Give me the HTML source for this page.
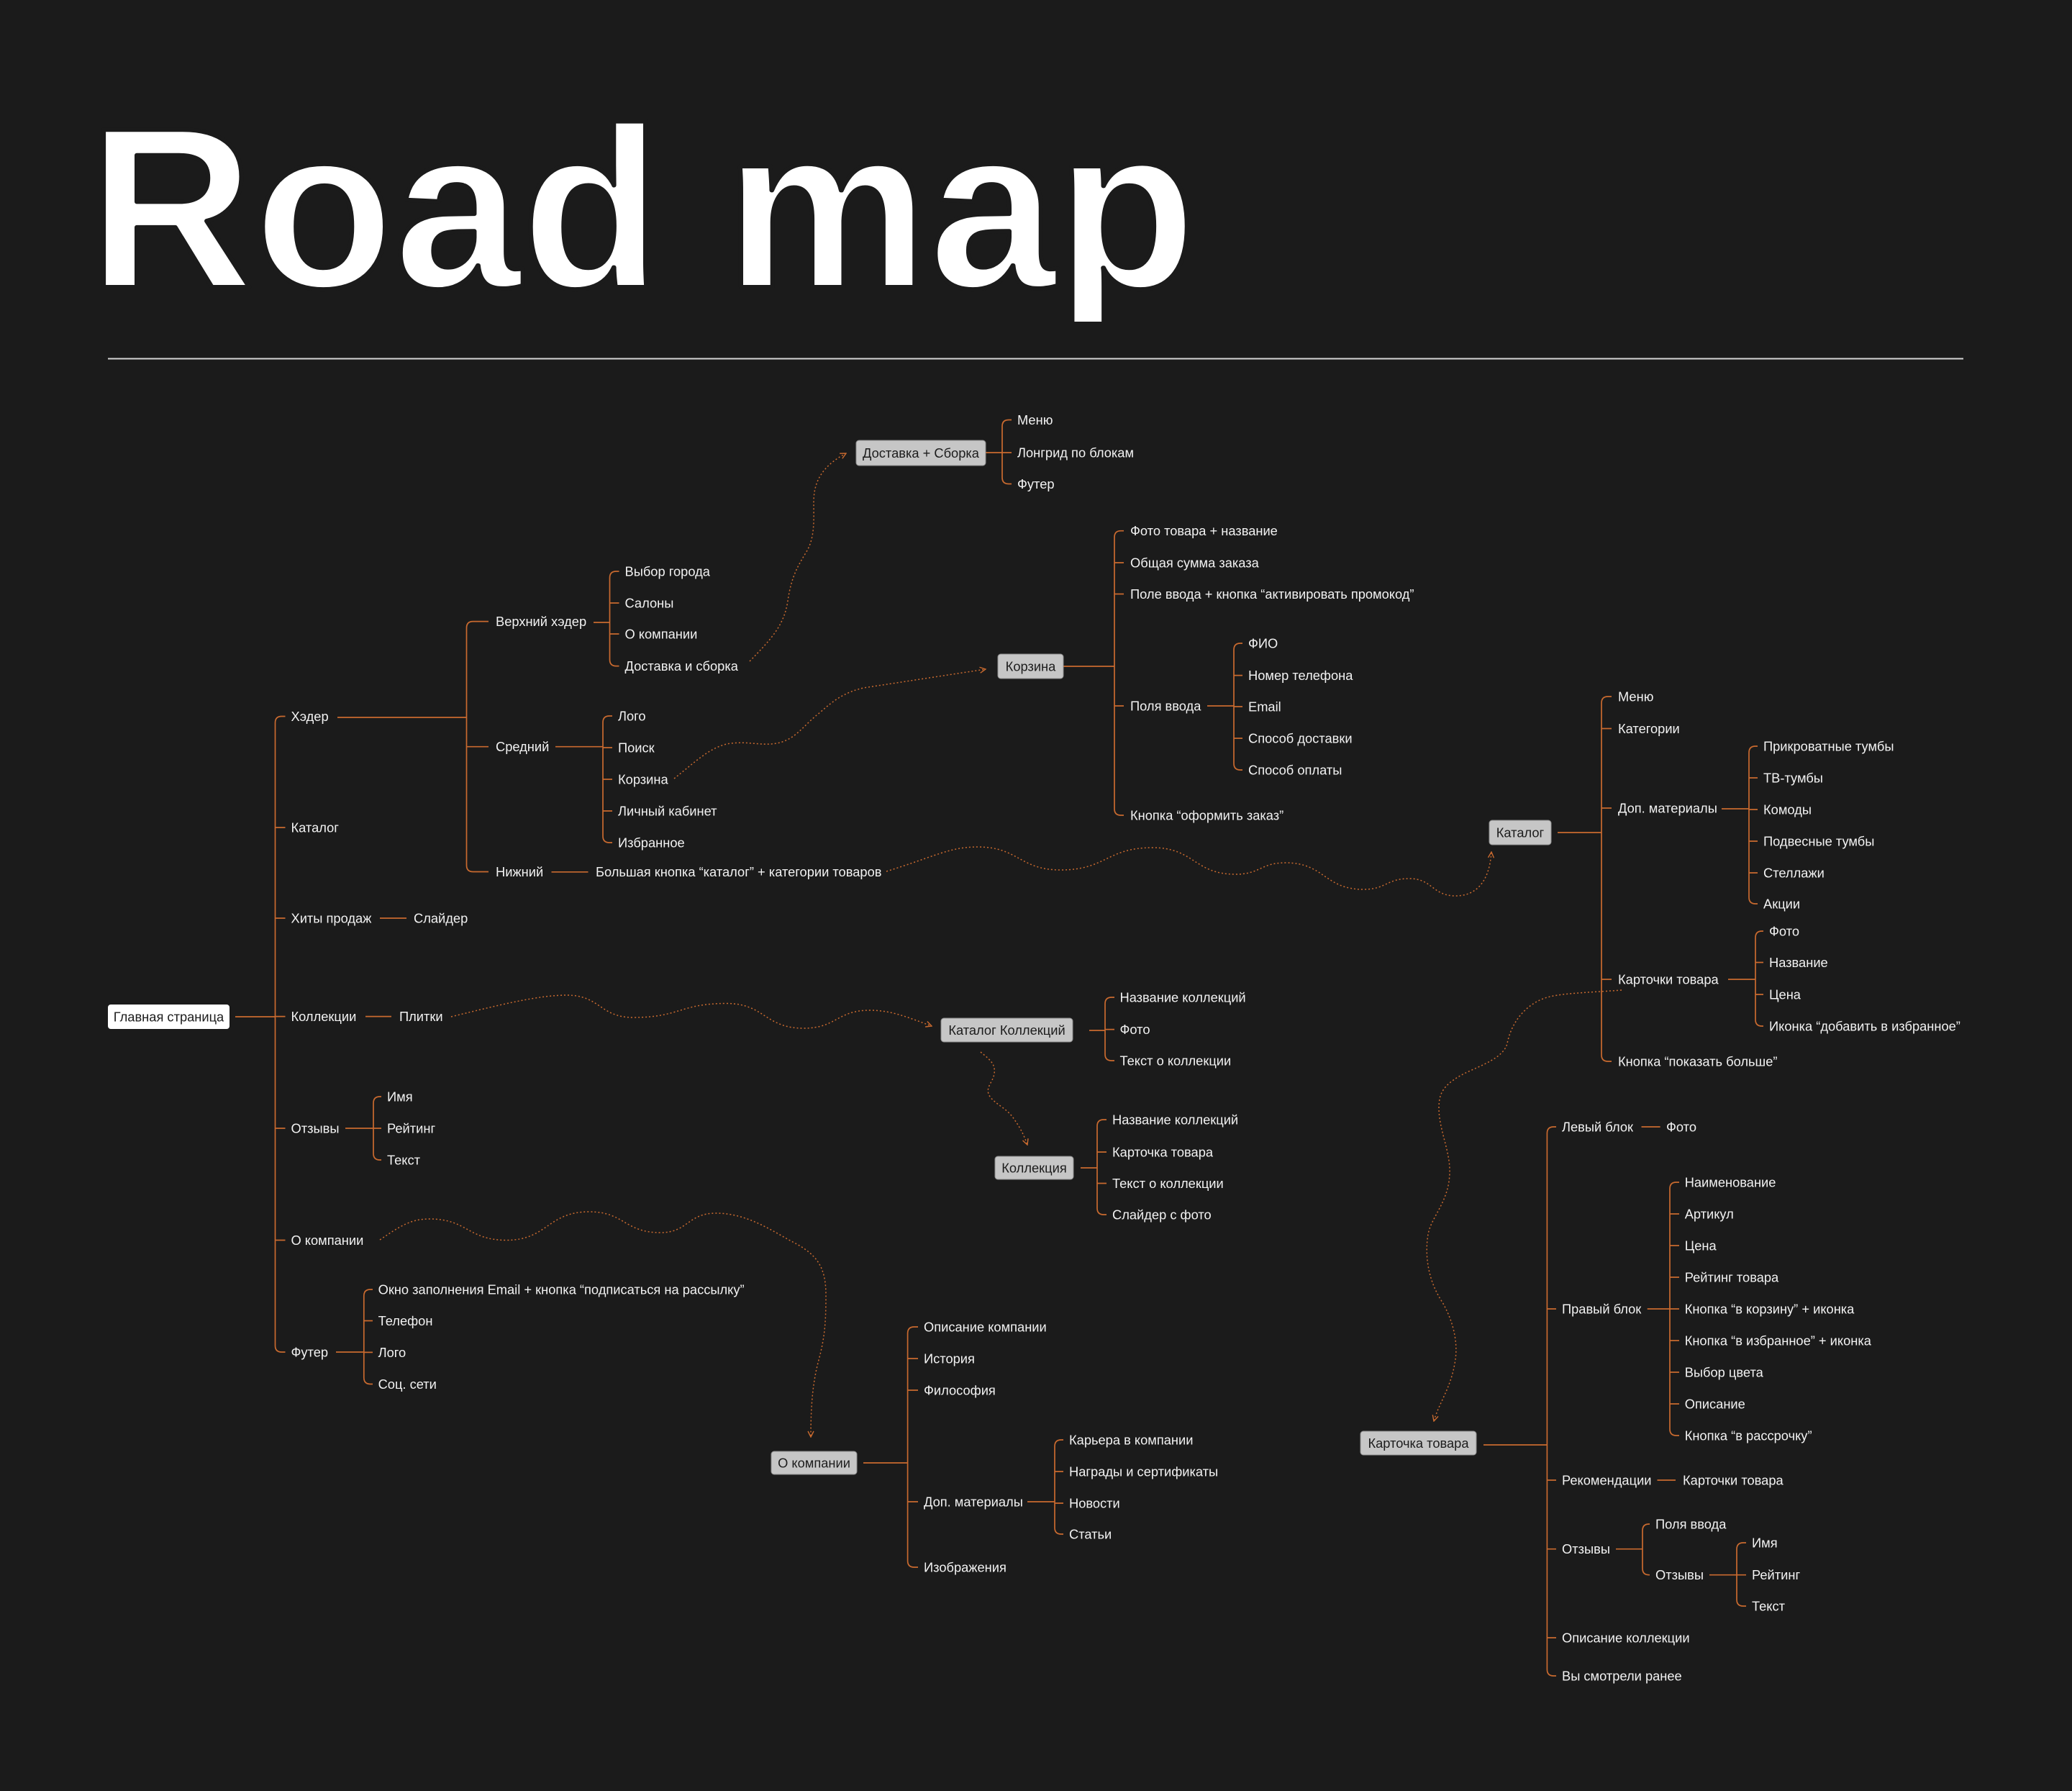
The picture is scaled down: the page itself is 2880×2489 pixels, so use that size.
<!DOCTYPE html>
<html>
<head>
<meta charset="utf-8">
<style>
html,body{margin:0;padding:0;background:#1b1b1b;}
svg{display:block;}
.t{font-family:"Liberation Sans","DejaVu Sans",sans-serif;font-size:18.3px;fill:#f2f2f2;}
.b{font-family:"Liberation Sans","DejaVu Sans",sans-serif;font-size:18.3px;fill:#1c1c1c;text-anchor:middle;}
.l{fill:none;stroke:#c96a2f;stroke-width:1.7;}
.d{fill:none;stroke:#c96a2f;stroke-width:1.5;stroke-dasharray:2 3;}
.bx{fill:#c6c6c6;stroke:#8e8e8e;stroke-width:1;}
</style>
</head>
<body>
<svg width="2880" height="2489" viewBox="0 0 2880 2489" xmlns="http://www.w3.org/2000/svg">
<defs>
<marker id="a" viewBox="0 0 10 10" refX="9" refY="5" markerWidth="10" markerHeight="10" markerUnits="userSpaceOnUse" orient="auto">
<path d="M1,1 L9,5 L1,9" fill="none" stroke="#c96a2f" stroke-width="1.4"/>
</marker>
<clipPath id="tc"><rect x="0" y="0" width="2880" height="447"/></clipPath>
</defs>
<rect x="0" y="0" width="2880" height="2489" fill="#1b1b1b"/>

<!-- Title -->
<g clip-path="url(#tc)">
<text x="122.8" y="399" font-family="'Liberation Sans',sans-serif" font-size="318" font-weight="700" fill="#ffffff" stroke="#1b1b1b" stroke-width="6" stroke-linejoin="round" textLength="1540" lengthAdjust="spacingAndGlyphs">Road map</text>
</g>
<line x1="150" y1="498.5" x2="2729" y2="498.5" stroke="#d6d6d6" stroke-width="2"/>

<!-- Brackets -->
<path class="l" d="M396.5,995.5 H391.5 Q382.5,995.5 382.5,1004.5 V1870 Q382.5,1879 391.5,1879 H396.5 M382.5,1150H396.5 M382.5,1276H396.5 M382.5,1412.6H396.5 M382.5,1568H396.5 M382.5,1723.5H396.5"/>
<path class="l" d="M679,863.6 H657.5 Q648.5,863.6 648.5,872.6 V1202.5 Q648.5,1211.5 657.5,1211.5 H679 M648.5,1037.7H679"/>
<path class="l" d="M860.5,794 H856.5 Q847.5,794 847.5,803 V916.6 Q847.5,925.6 856.5,925.6 H860.5 M847.5,838H860.5 M847.5,881H860.5"/>
<path class="l" d="M851,995 H847 Q838,995 838,1004 V1162 Q838,1171 847,1171 H851 M838,1039H851 M838,1083H851 M838,1127H851"/>
<path class="l" d="M530,1524 H528 Q519,1524 519,1533 V1603 Q519,1612 528,1612 H530 M519,1568H530"/>
<path class="l" d="M518,1792 H514.8 Q505.8,1792 505.8,1801 V1914.5 Q505.8,1923.5 514.8,1923.5 H518 M505.8,1835.5H518 M505.8,1879.4H518"/>
<path class="l" d="M1406,583.5 H1402 Q1393,583.5 1393,592.5 V663.5 Q1393,672.5 1402,672.5 H1406 M1393,629H1406"/>
<path class="l" d="M1562,737.7 H1558 Q1549,737.7 1549,746.7 V1124 Q1549,1133 1558,1133 H1562 M1549,782H1562 M1549,825.5H1562 M1549,981H1562"/>
<path class="l" d="M1727,894 H1724 Q1715,894 1715,903 V1061 Q1715,1070 1724,1070 H1727 M1715,938.6H1727 M1715,982H1727 M1715,1026H1727"/>
<path class="l" d="M2240,968 H2235 Q2226,968 2226,977 V1466 Q2226,1475 2235,1475 H2240 M2226,1012.5H2240 M2226,1123H2240 M2226,1361H2240"/>
<path class="l" d="M2443,1037 H2440 Q2431,1037 2431,1046 V1247 Q2431,1256 2440,1256 H2443 M2431,1081H2443 M2431,1125H2443 M2431,1169H2443 M2431,1213H2443"/>
<path class="l" d="M2451,1294 H2449 Q2440,1294 2440,1303 V1417 Q2440,1426 2449,1426 H2451 M2440,1337.5H2451 M2440,1382H2451"/>
<path class="l" d="M1549,1386 H1545 Q1536,1386 1536,1395 V1465 Q1536,1474 1545,1474 H1549 M1536,1430.6H1549"/>
<path class="l" d="M1538,1556 H1534 Q1525,1556 1525,1565 V1679 Q1525,1688 1534,1688 H1538 M1525,1601H1538 M1525,1644.5H1538"/>
<path class="l" d="M1276,1844 H1270.6 Q1261.6,1844 1261.6,1853 V2169 Q1261.6,2178 1270.6,2178 H1276 M1261.6,1888H1276 M1261.6,1932H1276 M1261.6,2087H1276"/>
<path class="l" d="M1478,2001 H1475 Q1466,2001 1466,2010 V2123 Q1466,2132 1475,2132 H1478 M1466,2045H1478 M1466,2089H1478"/>
<path class="l" d="M2163,1566 H2159.4 Q2150.4,1566 2150.4,1575 V2320 Q2150.4,2329 2159.4,2329 H2163 M2150.4,1819H2163 M2150.4,2057H2163 M2150.4,2152.7H2163 M2150.4,2276H2163"/>
<path class="l" d="M2334,1643 H2330 Q2321,1643 2321,1652 V1986 Q2321,1995 2330,1995 H2334 M2321,1687H2334 M2321,1731H2334 M2321,1775H2334 M2321,1819H2334 M2321,1863H2334 M2321,1907H2334 M2321,1951H2334"/>
<path class="l" d="M2293,2118 H2292 Q2283,2118 2283,2127 V2179.7 Q2283,2188.7 2292,2188.7 H2293"/>
<path class="l" d="M2427,2144 H2423 Q2414,2144 2414,2153 V2223 Q2414,2232 2423,2232 H2427 M2414,2188.7H2427"/>

<!-- Horizontal connectors -->
<path class="l" d="M327,1413H382.5 M469,997H648.5 M825,865H847.5 M772,1037.7H838 M766.5,1211.8H817.5 M528,1276H565 M508,1412.6H544 M480,1568H519 M467,1879H505.8 M1370,629H1393 M1478,926H1549 M1678,981H1715 M2165,1157H2226 M2393,1124H2431 M2402,1361H2440 M1514,1432H1536 M1502,1623H1525 M1200,2033H1261.6 M1428,2087H1466 M2062,2008H2150.4 M2281.5,1566H2307.6 M2289.7,1819H2321 M2303.5,2057H2329 M2246,2152.7H2283 M2376,2188.7H2414"/>

<!-- Dotted connectors -->
<path class="d" marker-end="url(#a)" d="M1042,919 C1070,890 1090,870 1095,835 C1100,800 1110,785 1122,765 C1133,745 1131,720 1131,698 C1131,670 1142,648 1176,630"/>
<path class="d" marker-end="url(#a)" d="M937,1082 C965,1060 985,1040 1010,1034 C1040,1028 1065,1040 1090,1030 C1110,1022 1120,1005 1140,990 C1160,972 1175,962 1200,956 L1370,930"/>
<path class="d" marker-end="url(#a)" d="M1232,1211 C1300,1190 1320,1177 1359,1177 C1416,1177 1417,1209 1474,1209 C1538,1209 1538,1178 1602,1178 C1660,1178 1660,1215 1717,1215 C1752,1215 1752,1199 1787,1199 C1841,1199 1841,1236 1895,1236 C1927,1236 1927,1221 1959,1221 C1991,1221 1991,1245 2023,1245 C2050,1245 2070,1228 2073,1184"/>
<path class="d" marker-end="url(#a)" d="M627,1413 C700,1395 750,1383 788,1383 C834,1383 834,1414 880,1414 C945,1414 945,1394.5 1010,1394.5 C1063,1394.5 1063,1429 1117,1429 C1163,1429 1163,1404 1209,1404 C1240,1404 1265,1415 1295,1426"/>
<path class="d" marker-end="url(#a)" d="M1363,1462 C1375,1472 1384,1478 1382,1492 C1380,1505 1368,1512 1376,1524 C1385,1536 1400,1540 1410,1556 C1420,1570 1424,1580 1428,1591"/>
<path class="d" marker-end="url(#a)" d="M528,1723 C555,1705 570,1694 597,1694 C650,1694 650,1723.5 704,1723.5 C761,1723.5 761,1684 819,1684 C868,1684 868,1713 918,1713 C956,1713 956,1686 995,1686 C1040,1686 1075,1712 1102,1726 C1135,1743 1148,1760 1148,1800 C1148,1840 1146,1860 1138,1890 C1130,1920 1127,1950 1127,1997"/>
<path class="d" marker-end="url(#a)" d="M2254,1376 C2200,1380 2160,1380 2140,1390 C2115,1402 2100,1425 2095,1450 C2090,1470 2060,1480 2035,1492 C2005,1508 2000,1520 2000,1540 C2000,1570 2016,1600 2015,1630 C2014,1670 1990,1690 1985,1715 C1980,1745 1985,1780 2005,1810 C2022,1840 2027,1870 2022,1895 C2016,1930 2000,1950 1993,1975"/>

<!-- Boxes -->
<rect x="150" y="1396" width="169" height="34" rx="4" fill="#ffffff"/>
<text class="b" x="234.5" y="1419.5">Главная страница</text>
<rect class="bx" x="1190" y="612" width="180" height="35" rx="4"/>
<text class="b" x="1280" y="636">Доставка + Сборка</text>
<rect class="bx" x="1387" y="909" width="91" height="34" rx="4"/>
<text class="b" x="1432.5" y="932.5">Корзина</text>
<rect class="bx" x="2070" y="1140" width="86" height="34" rx="4"/>
<text class="b" x="2113" y="1163.5">Каталог</text>
<rect class="bx" x="1308" y="1415" width="183" height="33" rx="4"/>
<text class="b" x="1399.5" y="1438">Каталог Коллекций</text>
<rect class="bx" x="1383" y="1607" width="109" height="32" rx="4"/>
<text class="b" x="1437.5" y="1629.5">Коллекция</text>
<rect class="bx" x="1072" y="2017" width="119" height="32" rx="4"/>
<text class="b" x="1131.5" y="2039.5">О компании</text>
<rect class="bx" x="1891" y="1989" width="161" height="33" rx="4"/>
<text class="b" x="1971.5" y="2012">Карточка товара</text>

<!-- Level 1 labels -->
<text class="t" x="404.5" y="1002">Хэдер</text>
<text class="t" x="404.5" y="1156.5">Каталог</text>
<text class="t" x="404.5" y="1282.5">Хиты продаж</text>
<text class="t" x="404.5" y="1419">Коллекции</text>
<text class="t" x="404.5" y="1574.5">Отзывы</text>
<text class="t" x="404.5" y="1730">О компании</text>
<text class="t" x="404.5" y="1885.5">Футер</text>

<text class="t" x="575" y="1282.5">Слайдер</text>
<text class="t" x="555" y="1419">Плитки</text>

<text class="t" x="538" y="1530.5">Имя</text>
<text class="t" x="538" y="1574.5">Рейтинг</text>
<text class="t" x="538" y="1618.5">Текст</text>

<text class="t" x="525.6" y="1798.5">Окно заполнения Email + кнопка “подписаться на рассылку”</text>
<text class="t" x="525.6" y="1842">Телефон</text>
<text class="t" x="525.6" y="1886">Лого</text>
<text class="t" x="525.6" y="1930">Соц. сети</text>

<!-- Header subtree -->
<text class="t" x="689" y="870">Верхний хэдер</text>
<text class="t" x="689" y="1044">Средний</text>
<text class="t" x="689" y="1218">Нижний</text>

<text class="t" x="868.5" y="800.5">Выбор города</text>
<text class="t" x="868.5" y="844.5">Салоны</text>
<text class="t" x="868.5" y="887.5">О компании</text>
<text class="t" x="868.5" y="932">Доставка и сборка</text>

<text class="t" x="859" y="1001.5">Лого</text>
<text class="t" x="859" y="1045.5">Поиск</text>
<text class="t" x="859" y="1089.5">Корзина</text>
<text class="t" x="859" y="1133.5">Личный кабинет</text>
<text class="t" x="859" y="1177.5">Избранное</text>

<text class="t" x="828" y="1218">Большая кнопка “каталог” + категории товаров</text>

<!-- Доставка + Сборка -->
<text class="t" x="1414" y="590">Меню</text>
<text class="t" x="1414" y="635.5">Лонгрид по блокам</text>
<text class="t" x="1414" y="679">Футер</text>

<!-- Корзина -->
<text class="t" x="1571" y="744">Фото товара + название</text>
<text class="t" x="1571" y="788.5">Общая сумма заказа</text>
<text class="t" x="1571" y="832">Поле ввода + кнопка “активировать промокод”</text>
<text class="t" x="1571" y="987.5">Поля ввода</text>
<text class="t" x="1571" y="1139.5">Кнопка “оформить заказ”</text>

<text class="t" x="1735" y="900.5">ФИО</text>
<text class="t" x="1735" y="945">Номер телефона</text>
<text class="t" x="1735" y="988.5">Email</text>
<text class="t" x="1735" y="1032.5">Способ доставки</text>
<text class="t" x="1735" y="1076.5">Способ оплаты</text>

<!-- Каталог -->
<text class="t" x="2249" y="974.5">Меню</text>
<text class="t" x="2249" y="1019">Категории</text>
<text class="t" x="2249" y="1129.5">Доп. материалы</text>
<text class="t" x="2249" y="1367.5">Карточки товара</text>
<text class="t" x="2249" y="1481.5">Кнопка “показать больше”</text>

<text class="t" x="2451" y="1043.5">Прикроватные тумбы</text>
<text class="t" x="2451" y="1087.5">ТВ-тумбы</text>
<text class="t" x="2451" y="1131.5">Комоды</text>
<text class="t" x="2451" y="1175.5">Подвесные тумбы</text>
<text class="t" x="2451" y="1219.5">Стеллажи</text>
<text class="t" x="2451" y="1262.5">Акции</text>

<text class="t" x="2459" y="1300.5">Фото</text>
<text class="t" x="2459" y="1344">Название</text>
<text class="t" x="2459" y="1388.5">Цена</text>
<text class="t" x="2459" y="1432.5">Иконка “добавить в избранное”</text>

<!-- Каталог Коллекций -->
<text class="t" x="1556.5" y="1392.5">Название коллекций</text>
<text class="t" x="1556.5" y="1437">Фото</text>
<text class="t" x="1556.5" y="1480.5">Текст о коллекции</text>

<!-- Коллекция -->
<text class="t" x="1546" y="1562.5">Название коллекций</text>
<text class="t" x="1546" y="1607.5">Карточка товара</text>
<text class="t" x="1546" y="1651">Текст о коллекции</text>
<text class="t" x="1546" y="1694.5">Слайдер с фото</text>

<!-- О компании -->
<text class="t" x="1284" y="1850.5">Описание компании</text>
<text class="t" x="1284" y="1894.5">История</text>
<text class="t" x="1284" y="1938.5">Философия</text>
<text class="t" x="1284" y="2093.5">Доп. материалы</text>
<text class="t" x="1284" y="2184.5">Изображения</text>

<text class="t" x="1486" y="2007.5">Карьера в компании</text>
<text class="t" x="1486" y="2051.5">Награды и сертификаты</text>
<text class="t" x="1486" y="2095.5">Новости</text>
<text class="t" x="1486" y="2138.5">Статьи</text>

<!-- Карточка товара -->
<text class="t" x="2171" y="1572.5">Левый блок</text>
<text class="t" x="2316" y="1572.5">Фото</text>
<text class="t" x="2171" y="1825.5">Правый блок</text>
<text class="t" x="2171" y="2063.5">Рекомендации</text>
<text class="t" x="2339" y="2063.5">Карточки товара</text>
<text class="t" x="2171" y="2159">Отзывы</text>
<text class="t" x="2171" y="2282.5">Описание коллекции</text>
<text class="t" x="2171" y="2335.5">Вы смотрели ранее</text>

<text class="t" x="2341.7" y="1649.5">Наименование</text>
<text class="t" x="2341.7" y="1693.5">Артикул</text>
<text class="t" x="2341.7" y="1737.5">Цена</text>
<text class="t" x="2341.7" y="1781.5">Рейтинг товара</text>
<text class="t" x="2341.7" y="1825.5">Кнопка “в корзину” + иконка</text>
<text class="t" x="2341.7" y="1869.5">Кнопка “в избранное” + иконка</text>
<text class="t" x="2341.7" y="1913.5">Выбор цвета</text>
<text class="t" x="2341.7" y="1957.5">Описание</text>
<text class="t" x="2341.7" y="2001.5">Кнопка “в рассрочку”</text>

<text class="t" x="2301" y="2124.5">Поля ввода</text>
<text class="t" x="2301" y="2195">Отзывы</text>

<text class="t" x="2435" y="2150.5">Имя</text>
<text class="t" x="2435" y="2195">Рейтинг</text>
<text class="t" x="2435" y="2238.5">Текст</text>
</svg>
</body>
</html>
